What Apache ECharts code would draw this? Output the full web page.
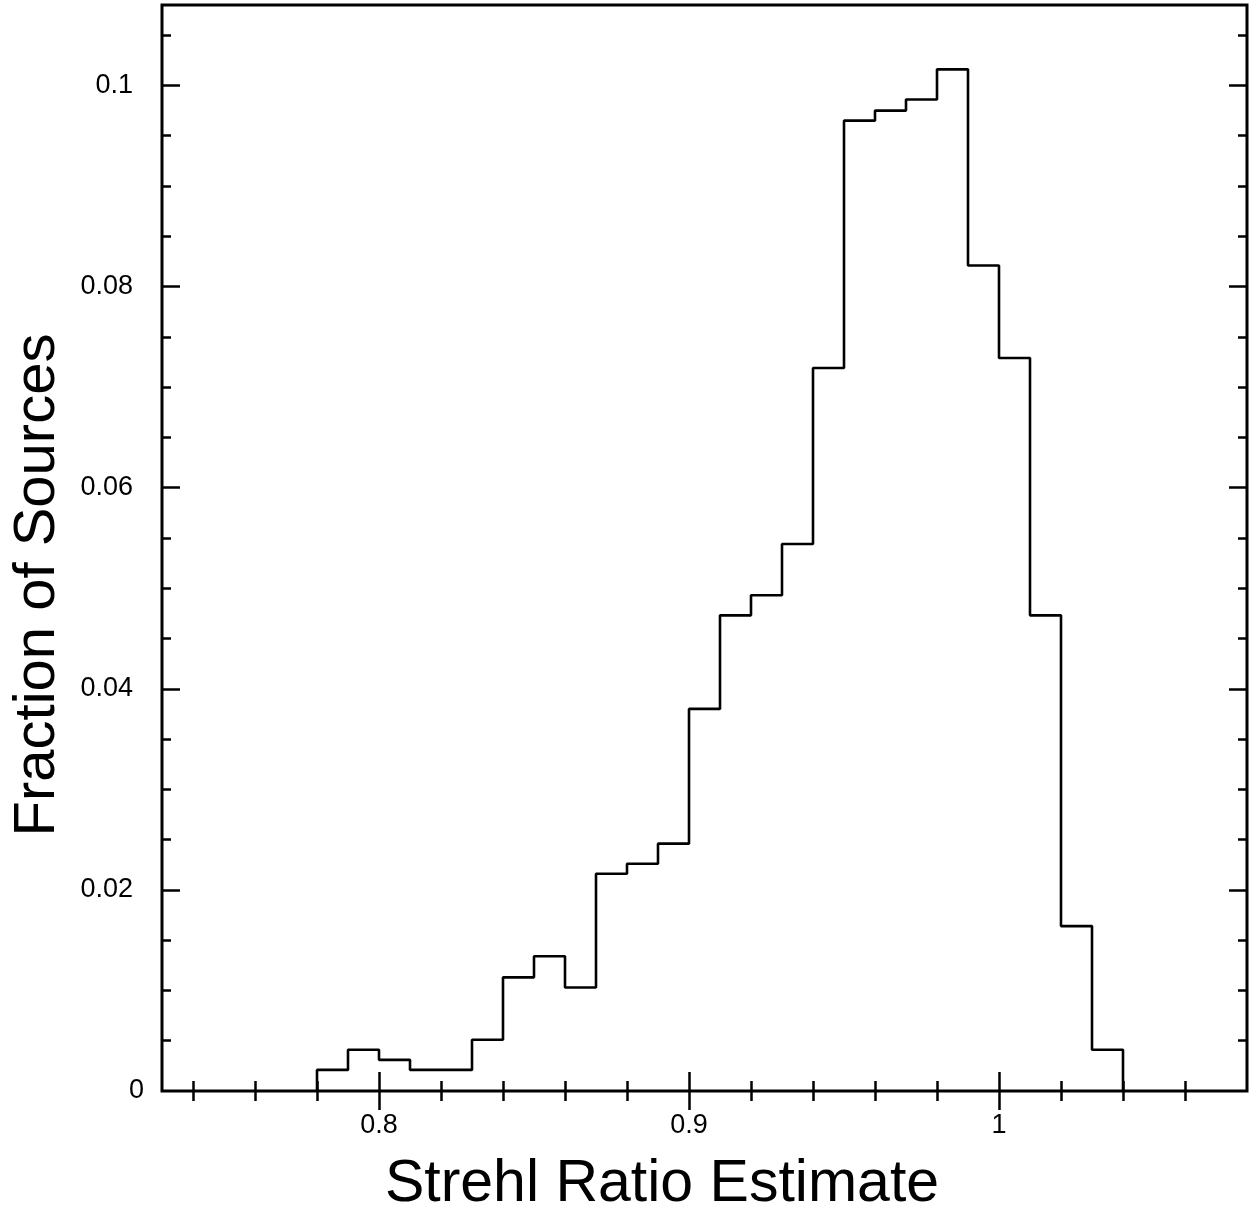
<!DOCTYPE html>
<html>
<head>
<meta charset="utf-8">
<script src="https://cdn.jsdelivr.net/npm/echarts@6/dist/echarts.min.js"></script>
<style>
html,body{margin:0;padding:0;background:#fff;}
#chart{width:1254px;height:1212px;}
</style>
</head>
<body>
<div id="chart"></div>
<script>
// Histogram bin edges (Strehl ratio) and fraction of sources per bin
const binEdges = [0.78, 0.79, 0.80, 0.81, 0.82, 0.83, 0.84, 0.85, 0.86, 0.87, 0.88, 0.89, 0.90,
  0.91, 0.92, 0.93, 0.94, 0.95, 0.96, 0.97, 0.98, 0.99, 1.00, 1.01, 1.02, 1.03, 1.04];
const fractions = [0.0021, 0.0041, 0.0031, 0.0021, 0.0021, 0.0051, 0.0113, 0.0134, 0.0103,
  0.0216, 0.0226, 0.0246, 0.0380, 0.0473, 0.0493, 0.0544, 0.0719, 0.0965, 0.0975, 0.0986,
  0.1016, 0.0821, 0.0729, 0.0473, 0.0164, 0.0041];

// Axis ticks and labels
const xMajorTicks = [0.8, 0.9, 1.0];
const xMajorLabels = ['0.8', '0.9', '1'];
const xMinorTicks = [0.74, 0.76, 0.78, 0.82, 0.84, 0.86, 0.88, 0.92, 0.94, 0.96, 0.98, 1.02, 1.04, 1.06];
const yMajorTicks = [0.02, 0.04, 0.06, 0.08, 0.1];
const yMajorLabels = ['0.02', '0.04', '0.06', '0.08', '0.1'];
const yZeroLabel = [0];
const yMinorTicks = [0.005, 0.01, 0.015, 0.025, 0.03, 0.035, 0.045, 0.05, 0.055, 0.065, 0.07, 0.075,
  0.085, 0.09, 0.095, 0.105];

const xTitle = 'Strehl Ratio Estimate';
const yTitle = 'Fraction of Sources';

const X_MIN = 0.73, X_MAX = 1.08, Y_MIN = 0, Y_MAX = 0.108;
const FONT = "'Liberation Sans', Arial, Helvetica, sans-serif";

// step-line data for the histogram outline
const stepData = [[binEdges[0], 0]];
for (let i = 0; i < fractions.length; i++) stepData.push([binEdges[i], fractions[i]]);
stepData.push([binEdges[binEdges.length - 1], 0]);

function tickAxis(dim, position, ticks, len, labels, labelOpts) {
  const ax = {
    type: 'value', position: position,
    min: dim === 'x' ? X_MIN : Y_MIN, max: dim === 'x' ? X_MAX : Y_MAX,
    axisLine: { show: false },
    splitLine: { show: false },
    axisTick: { show: true, inside: true, length: len, customValues: ticks,
      lineStyle: { color: '#000', width: 2.5 } },
    axisLabel: { show: false }
  };
  if (labels) {
    ax.axisLabel = Object.assign({
      show: true, customValues: labels.values,
      formatter: function (v) {
        const idx = labels.values.findIndex(t => Math.abs(t - v) < 1e-9);
        return idx >= 0 ? labels.text[idx] : '';
      },
      color: '#000', fontSize: 27, fontFamily: FONT
    }, labelOpts || {});
  }
  return ax;
}

const chart = echarts.init(document.getElementById('chart'), null, { renderer: 'canvas' });
chart.setOption({
  animation: false,
  backgroundColor: '#fff',
  grid: { left: 162, right: 7, top: 5, bottom: 121, show: true,
    borderColor: '#000', borderWidth: 3, backgroundColor: 'transparent' },
  xAxis: [
    tickAxis('x', 'bottom', xMajorTicks, 19, { values: xMajorTicks, text: xMajorLabels }, { margin: 21 }),
    tickAxis('x', 'bottom', xMinorTicks, 10),
    tickAxis('x', 'top', xMajorTicks, 19),
    tickAxis('x', 'top', xMinorTicks, 10)
  ],
  yAxis: [
    tickAxis('y', 'left', yMajorTicks, 18, { values: yMajorTicks, text: yMajorLabels },
      { margin: 29, padding: [9, 0, 0, 0] }),
    tickAxis('y', 'left', yMinorTicks, 9, { values: yZeroLabel, text: ['0'] },
      { margin: 18, padding: [9, 0, 0, 0] }),
    tickAxis('y', 'right', yMajorTicks, 18),
    tickAxis('y', 'right', yMinorTicks, 9)
  ],
  series: [{
    type: 'line', xAxisIndex: 0, yAxisIndex: 0,
    step: 'end', data: stepData,
    showSymbol: false, symbol: 'none',
    lineStyle: { color: '#000', width: 2.6 },
    silent: true
  }],
  graphic: [
    { type: 'text', silent: true, x: 662, y: 1185,
      style: { text: xTitle, font: "59px " + FONT, fill: '#000', align: 'center', verticalAlign: 'middle' } },
    { type: 'text', silent: true, x: 38, y: 585, rotation: Math.PI / 2,
      style: { text: yTitle, font: "58px " + FONT, fill: '#000', align: 'center', verticalAlign: 'middle' } }
  ]
});
</script>
</body>
</html>
